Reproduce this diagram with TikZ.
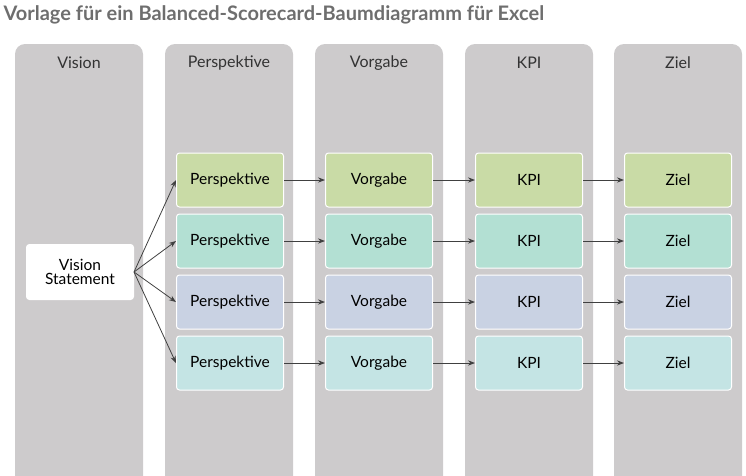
\documentclass[tikz,border=0pt]{standalone}
\usepackage{fontspec}
\setmainfont{Lato}
\usetikzlibrary{positioning, arrows.meta}
\definecolor{colgray}{HTML}{CDCBCC}
\definecolor{rowA}{HTML}{C9DBA6}
\definecolor{rowB}{HTML}{B3E0D3}
\definecolor{rowC}{HTML}{C9D2E3}
\definecolor{rowD}{HTML}{C4E4E4}
\definecolor{titlegray}{HTML}{6E6E6E}
\begin{document}
\begin{tikzpicture}[
    x=1pt, y=-1pt,
    column/.style={fill=colgray, rounded corners=10pt},
    head/.style={font=\fontsize{16}{19}\selectfont, text=black!80},
    cell/.style={draw=white, line width=1pt, rounded corners=3pt, minimum width=107pt, minimum height=54pt, font=\fontsize{15.5}{17}\selectfont, align=center},
    link/.style={-{Stealth[length=7pt]}, draw=black!75, line width=0.8pt}
]
    \useasboundingbox (0,0) rectangle (746,475);
    \node[anchor=west, font=\bfseries\fontsize{20}{23}\selectfont, text=titlegray] (title) at (0,15) {Vorlage für ein Balanced-Scorecard-Baumdiagramm für Excel};

    % columns
    \foreach \x/\name in {15/Vision, 165/Perspektive, 315/Vorgabe, 465/KPI, 614/Ziel} {
        \fill[column] (\x,44) rectangle (\x+128,490);
        \node[head] at (\x+64,63) {\name};
    }

    % vision statement
    \node[cell, fill=white, minimum height=55pt] (vision) at (80,272) {Vision\\[-3pt]Statement};

    % rows
    \foreach \y/\c/\i in {180/rowA/1, 241/rowB/2, 302/rowC/3, 363/rowD/4} {
        \node[cell, fill=\c] (p\i) at (230,\y) {Perspektive};
        \node[cell, fill=\c] (v\i) at (379,\y) {Vorgabe};
        \node[cell, fill=\c] (k\i) at (529,\y) {KPI};
        \node[cell, fill=\c] (z\i) at (678,\y) {Ziel};
        \draw[link] (vision.east) -- (p\i.west);
        \draw[link] (p\i) -- (v\i);
        \draw[link] (v\i) -- (k\i);
        \draw[link] (k\i) -- (z\i);
    }
\end{tikzpicture}
\end{document}
